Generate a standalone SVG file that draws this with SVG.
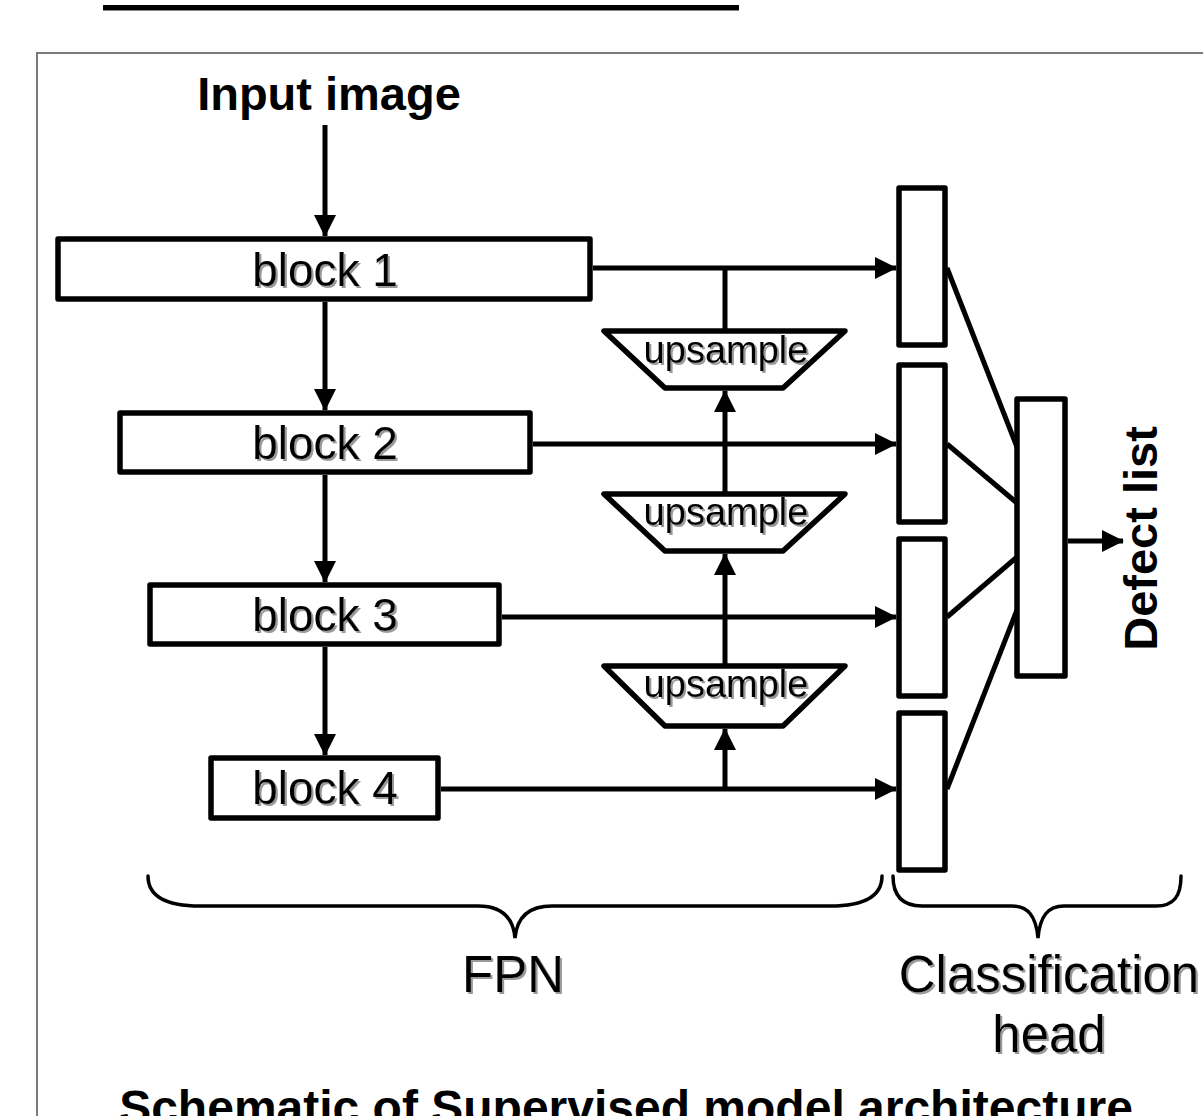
<svg xmlns="http://www.w3.org/2000/svg" width="1203" height="1116" viewBox="0 0 1203 1116">
<style>
.box{fill:#fff;stroke:#000;stroke-width:5.5;stroke-linejoin:round}
.ln{fill:none;stroke:#000;stroke-width:5}
.thin{fill:none;stroke:#000;stroke-width:3.5;stroke-linecap:round}
.reg{font-family:"Liberation Sans",Arial,sans-serif;fill:#000;text-anchor:middle;filter:url(#sh)}
.bold{font-family:"Liberation Sans",Arial,sans-serif;font-weight:bold;fill:#000;text-anchor:middle}
</style>
<defs>
<marker id="ah" viewBox="0 0 22 22" refX="21" refY="11" markerWidth="22" markerHeight="22" markerUnits="userSpaceOnUse" orient="auto">
<path d="M0,0 L22,11 L0,22 z" fill="#000"/>
</marker>
<filter id="sh" x="-10%" y="-10%" width="130%" height="140%">
<feDropShadow dx="2" dy="2" stdDeviation="0.6" flood-color="#9a9a9a" flood-opacity="1"/>
</filter>
</defs>
<rect width="1203" height="1116" fill="#fff"/>
<rect x="103" y="5" width="636" height="5" fill="#000"/>
<rect x="103" y="10" width="636" height="1" fill="#888"/>
<rect x="37" y="53" width="1200" height="1100" fill="none" stroke="#7a7a7a" stroke-width="2"/>

<g id="connectors">
<line class="ln" x1="325" y1="125" x2="325" y2="236" marker-end="url(#ah)"/>
<line class="ln" x1="325" y1="302" x2="325" y2="410" marker-end="url(#ah)"/>
<line class="ln" x1="325" y1="475" x2="325" y2="582" marker-end="url(#ah)"/>
<line class="ln" x1="325" y1="647" x2="325" y2="755" marker-end="url(#ah)"/>
<line class="ln" x1="593" y1="268" x2="896" y2="268" marker-end="url(#ah)"/>
<line class="ln" x1="533" y1="444" x2="896" y2="444" marker-end="url(#ah)"/>
<line class="ln" x1="502" y1="617" x2="896" y2="617" marker-end="url(#ah)"/>
<line class="ln" x1="441" y1="789" x2="896" y2="789" marker-end="url(#ah)"/>
<line class="ln" x1="725" y1="268" x2="725" y2="331"/>
<line class="ln" x1="725" y1="492" x2="725" y2="391" marker-end="url(#ah)"/>
<line class="ln" x1="725" y1="664" x2="725" y2="554" marker-end="url(#ah)"/>
<line class="ln" x1="725" y1="789" x2="725" y2="729" marker-end="url(#ah)"/>
<line class="ln" x1="947" y1="268" x2="1017" y2="447"/>
<line class="ln" x1="947" y1="444" x2="1017" y2="503"/>
<line class="ln" x1="947" y1="617" x2="1017" y2="557"/>
<line class="ln" x1="947" y1="789" x2="1017" y2="610"/>
<line class="ln" x1="1068" y1="541" x2="1123" y2="541" marker-end="url(#ah)"/>
</g>

<text class="bold" x="329" y="110" font-size="47">Input image</text>

<g id="block1"><rect class="box" x="58" y="239" width="532" height="60"/><text class="reg" x="325" y="286" font-size="46">block 1</text></g>
<g id="block2"><rect class="box" x="120" y="413" width="410" height="59"/><text class="reg" x="325" y="459" font-size="46">block 2</text></g>
<g id="block3"><rect class="box" x="150" y="585" width="349" height="59"/><text class="reg" x="325" y="631" font-size="46">block 3</text></g>
<g id="block4"><rect class="box" x="211" y="758" width="227" height="60"/><text class="reg" x="325" y="804" font-size="46">block 4</text></g>

<g id="upsample1"><polygon class="box" points="604,331 845,331 783,388 665,388"/><text class="reg" x="726" y="363" font-size="38">upsample</text></g>
<g id="upsample2"><polygon class="box" points="604,494 845,494 783,551 665,551"/><text class="reg" x="726" y="525" font-size="38">upsample</text></g>
<g id="upsample3"><polygon class="box" points="604,666 845,666 783,726 665,726"/><text class="reg" x="726" y="697" font-size="38">upsample</text></g>

<g id="head1"><rect class="box" x="899" y="188" width="46" height="157"/></g>
<g id="head2"><rect class="box" x="899" y="365" width="46" height="157"/></g>
<g id="head3"><rect class="box" x="899" y="539" width="46" height="157"/></g>
<g id="head4"><rect class="box" x="899" y="713" width="46" height="157"/></g>
<g id="agg"><rect class="box" x="1017" y="399" width="48" height="277"/></g>

<text class="bold" font-size="47" transform="translate(1157,538.5) rotate(-90)" x="0" y="0">Defect list</text>

<g id="fpn-brace">
<path class="thin" d="M148,876 C148,896 165,906 200,906 L478,906 C500,906 513,916 515,938 C517,916 530,906 552,906 L830,906 C865,906 882,896 882,876"/>
<text class="reg" x="513" y="992" font-size="51">FPN</text>
</g>
<g id="head-brace">
<path class="thin" d="M893,876 C893,896 903,906 922,906 L1012,906 C1028,906 1036,916 1038,938 C1040,916 1048,906 1064,906 L1156,906 C1174,906 1181,896 1181,876"/>
<text class="reg" x="1049" y="992" font-size="51">Classification</text>
<text class="reg" x="1049" y="1052" font-size="51">head</text>
</g>

<text class="bold" x="626" y="1124" font-size="48">Schematic of Supervised model architecture</text>
</svg>
